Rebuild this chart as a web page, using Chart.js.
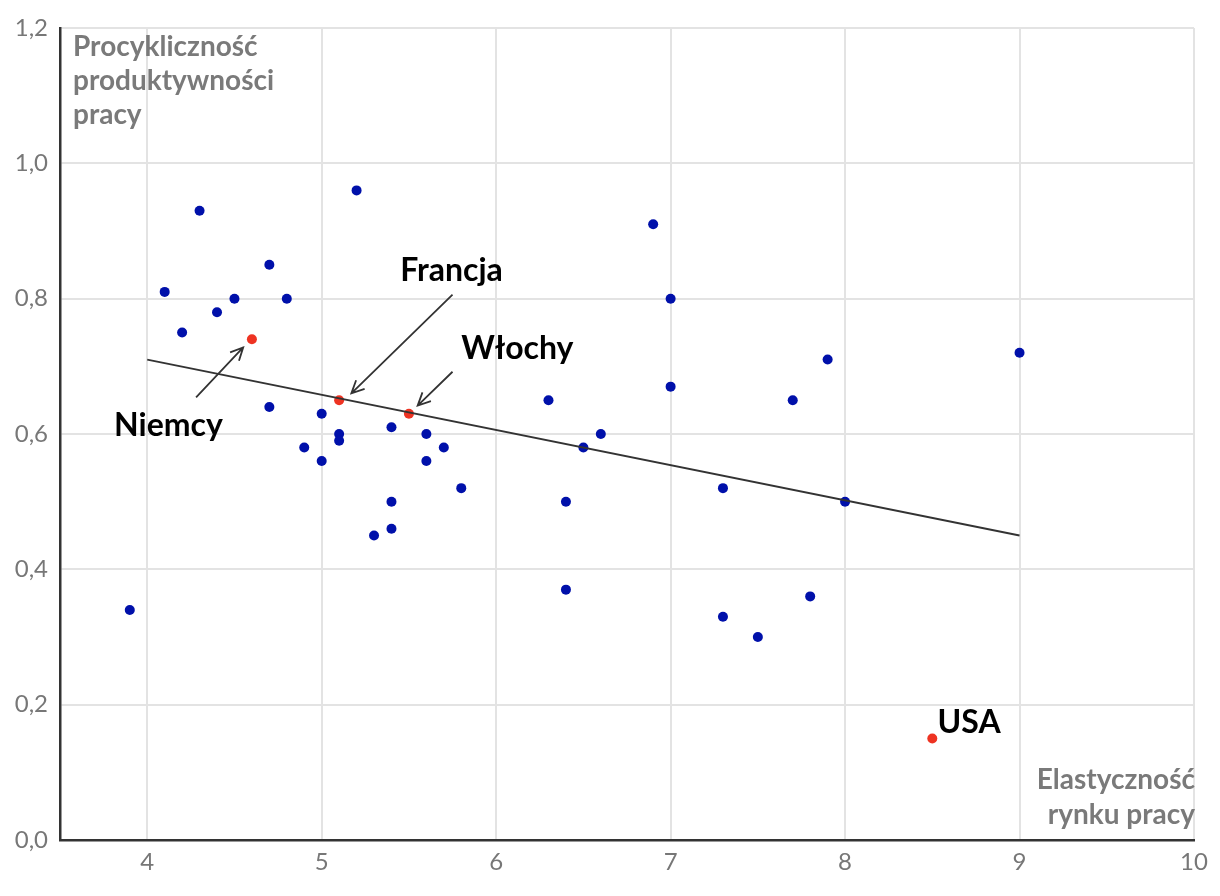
<!DOCTYPE html>
<html>
<head>
<meta charset="utf-8">
<script src="https://cdn.jsdelivr.net/npm/chart.js@4.4.0/dist/chart.umd.min.js"></script>
<style>
  body { margin: 0; background: #fff; }
  #wrap { width: 1220px; height: 896px; }
</style>
</head>
<body>
<div id="wrap"><canvas id="chart" width="1220" height="896"></canvas></div>
<script>
// dane: elastyczność rynku pracy (x) i procykliczność produktywności (y)
const blueX = [3.9, 4.1, 4.2, 4.3, 4.4, 4.5, 4.7, 4.8, 4.7, 4.9, 5.0, 5.0, 5.1, 5.1, 5.2, 5.3, 5.4, 5.4, 5.4, 5.6,
               5.6, 5.7, 5.8, 6.3, 6.4, 6.4, 6.5, 6.6, 6.9, 7.0, 7.0, 7.3, 7.3, 7.5, 7.7, 7.8, 7.9, 8.0, 9.0];
const blueY = [0.34, 0.81, 0.75, 0.93, 0.78, 0.80, 0.85, 0.80, 0.64, 0.58, 0.63, 0.56, 0.60, 0.59, 0.96, 0.45, 0.61, 0.50, 0.46, 0.60,
               0.56, 0.58, 0.52, 0.65, 0.50, 0.37, 0.58, 0.60, 0.91, 0.80, 0.67, 0.52, 0.33, 0.30, 0.65, 0.36, 0.71, 0.50, 0.72];

const countries = ["Niemcy", "Francja", "Włochy", "USA"];
const redX = [4.6, 5.1, 5.5, 8.5];
const redY = [0.74, 0.65, 0.63, 0.15];

const trendX = [4, 9];
const trendY = [0.71, 0.45];

// etykiety krajów (lewy brzeg, środek tekstu) i strzałki [od x, od y, do x, do y]
const labelX = [3.81, 5.45, 5.80, 8.53];
const labelY = [0.612, 0.841, 0.726, 0.173];
const arrows = [
  [4.28, 0.654, 4.55, 0.728],
  [5.75, 0.806, 5.17, 0.660],
  [5.75, 0.692, 5.55, 0.642],
  null
];

const xTicks = [4, 5, 6, 7, 8, 9, 10];
const yTicks = [0, 0.2, 0.4, 0.6, 0.8, 1.0, 1.2];

const yTitle = ["Procykliczność", "produktywności", "pracy"];
const xTitle = ["Elastyczność", "rynku pracy"];

const FONT = "Lato, 'Noto Sans', sans-serif";

const annotations = {
  id: "annotations",
  afterDatasetsDraw(chart) {
    const ctx = chart.ctx;
    const xs = chart.scales.x, ys = chart.scales.y;
    const area = chart.chartArea;
    ctx.save();

    // strzałki
    ctx.strokeStyle = "#333";
    ctx.lineWidth = 1.8;
    arrows.forEach(a => {
      if (!a) return;
      const x1 = xs.getPixelForValue(a[0]), y1 = ys.getPixelForValue(a[1]);
      const x2 = xs.getPixelForValue(a[2]), y2 = ys.getPixelForValue(a[3]);
      const ang = Math.atan2(y2 - y1, x2 - x1);
      const h = 14;
      ctx.beginPath();
      ctx.moveTo(x1, y1);
      ctx.lineTo(x2, y2);
      ctx.moveTo(x2 - h * Math.cos(ang - 0.45), y2 - h * Math.sin(ang - 0.45));
      ctx.lineTo(x2, y2);
      ctx.lineTo(x2 - h * Math.cos(ang + 0.45), y2 - h * Math.sin(ang + 0.45));
      ctx.stroke();
    });

    // nazwy krajów
    ctx.fillStyle = "#000";
    ctx.font = "bold 32px " + FONT;
    ctx.textAlign = "left";
    ctx.textBaseline = "middle";
    countries.forEach((c, i) => {
      ctx.fillText(c, xs.getPixelForValue(labelX[i]), ys.getPixelForValue(labelY[i]));
    });

    // tytuły osi
    ctx.fillStyle = "#7a7a7a";
    ctx.font = "bold 28px " + FONT;
    ctx.textAlign = "left";
    yTitle.forEach((t, i) => ctx.fillText(t, area.left + 13, area.top + 19 + i * 34));
    ctx.textAlign = "right";
    xTitle.forEach((t, i) => ctx.fillText(t, area.right + 1, area.bottom - 60 + i * 35));

    ctx.restore();
  }
};

new Chart(document.getElementById("chart"), {
  type: "scatter",
  data: {
    datasets: [
      {
        type: "line",
        data: trendX.map((x, i) => ({ x: x, y: trendY[i] })),
        borderColor: "#333",
        borderWidth: 1.8,
        pointRadius: 0,
        fill: false,
        order: 0
      },
      {
        data: redX.map((x, i) => ({ x: x, y: redY[i] })),
        backgroundColor: "#EE3322",
        borderWidth: 0,
        pointRadius: 5,
        order: 1
      },
      {
        data: blueX.map((x, i) => ({ x: x, y: blueY[i] })),
        backgroundColor: "#0010AA",
        borderWidth: 0,
        pointRadius: 5,
        order: 2
      }
    ]
  },
  options: {
    responsive: false,
    animation: false,
    layout: { padding: { top: 28, right: 26, left: 0, bottom: 0 } },
    plugins: { legend: { display: false }, tooltip: { enabled: false } },
    scales: {
      x: {
        type: "linear",
        min: 3.5,
        max: 10,
        afterBuildTicks(scale) { scale.ticks = xTicks.map(v => ({ value: v })); },
        afterFit(scale) { scale.height = 56; },
        grid: { color: "#e3e3e3", lineWidth: 2, drawTicks: false },
        border: { color: "#333", width: 2.5 },
        ticks: {
          color: "#777",
          font: { family: FONT, size: 24 },
          padding: 8,
          callback: v => String(v)
        }
      },
      y: {
        min: 0,
        max: 1.2,
        afterBuildTicks(scale) { scale.ticks = yTicks.map(v => ({ value: v })); },
        afterFit(scale) { scale.width = 60; },
        grid: { color: "#e3e3e3", lineWidth: 2, drawTicks: false },
        border: { color: "#333", width: 2.5 },
        ticks: {
          color: "#777",
          font: { family: FONT, size: 24 },
          padding: 12,
          callback: v => v.toFixed(1).replace(".", ",")
        }
      }
    }
  },
  plugins: [annotations]
});
</script>
</body>
</html>
